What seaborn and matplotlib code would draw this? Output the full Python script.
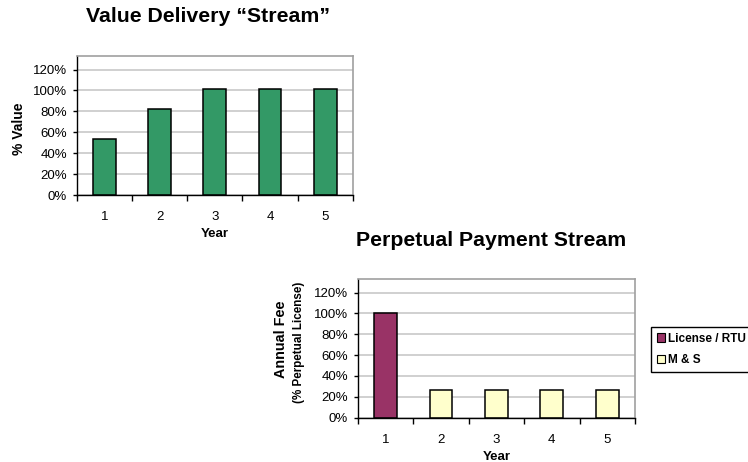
import matplotlib
matplotlib.use("Agg")
import matplotlib.pyplot as plt
import seaborn as sns
import pandas as pd
from matplotlib.ticker import FixedLocator, PercentFormatter
from matplotlib.patches import Patch

# Data
years = [1, 2, 3, 4, 5]
value_delivered = [0.54, 0.82, 1.01, 1.01, 1.01]
payment_component = ["License / RTU", "M & S", "M & S", "M & S", "M & S"]
annual_fee = [1.00, 0.27, 0.27, 0.27, 0.27]
y_ticks = [0.0, 0.2, 0.4, 0.6, 0.8, 1.0, 1.2]

palette = {"License / RTU": "#993366", "M & S": "#FFFFCC"}

sns.set_theme(style="white")
plt.rcParams["font.family"] = ["Liberation Sans", "DejaVu Sans"]
plt.rcParams["text.color"] = "black"
plt.rcParams["axes.labelcolor"] = "black"

fig = plt.figure(figsize=(7.48, 4.62), dpi=100)
ax1 = fig.add_axes([0.1025, 0.5779, 0.3694, 0.3009])
ax2 = fig.add_axes([0.4782, 0.0959, 0.3707, 0.3002])

value_df = pd.DataFrame({"Year": years, "Value": value_delivered})
sns.barplot(data=value_df, x="Year", y="Value", color="#339966", saturation=1,
            width=0.41, edgecolor="black", linewidth=1.1, ax=ax1)

fee_df = pd.DataFrame({"Year": years, "Component": payment_component, "Fee": annual_fee})
sns.barplot(data=fee_df, x="Year", y="Fee", hue="Component", palette=palette,
            saturation=1, dodge=False, width=0.41, edgecolor="black",
            linewidth=1.1, legend=False, ax=ax2)


def style_axes(ax):
    ax.set_xlim(-0.5, 4.5)
    ax.set_ylim(0, 1.33)
    ax.yaxis.set_major_locator(FixedLocator(y_ticks))
    ax.yaxis.set_major_formatter(PercentFormatter(1.0, decimals=0))
    ax.grid(axis="y", color="#c8c8c8", linewidth=1.2)
    ax.grid(axis="x", visible=False)
    ax.set_axisbelow(True)
    # boundary ticks between years, labels centred under each bar
    ax.set_xticks([i - 0.5 for i in range(6)])
    ax.set_xticklabels([])
    ax.set_xticks(range(5), minor=True)
    ax.set_xticklabels([str(y) for y in years], minor=True)
    ax.tick_params(axis="x", which="major", bottom=True, direction="out",
                   length=4, width=1, color="black")
    ax.tick_params(axis="x", which="minor", bottom=True, length=0, pad=11.5,
                   labelsize=9.5, labelcolor="black")
    ax.tick_params(axis="y", which="major", left=True, direction="out",
                   length=3, width=1, color="black", pad=4, labelsize=9.5,
                   labelcolor="black")
    for s in ("top", "right"):
        ax.spines[s].set_color("#a0a0a0")
        ax.spines[s].set_linewidth(1.2)
    for s in ("left", "bottom"):
        ax.spines[s].set_color("black")
        ax.spines[s].set_linewidth(1.0)
    ax.set_xlabel("Year", fontsize=9.5, fontweight="bold", labelpad=3.8,
                  color="black")


style_axes(ax1)
style_axes(ax2)

ax1.set_ylabel("% Value", fontsize=10, fontweight="bold", color="black")
ax1.yaxis.label.set_verticalalignment("center")
ax1.yaxis.set_label_coords(-0.209, 0.48)

ax2.set_ylabel("Annual Fee", fontsize=10.4, fontweight="bold", color="black")
ax2.yaxis.label.set_verticalalignment("center")
ax2.yaxis.set_label_coords(-0.278, 0.567)
ax2.text(-0.213, 0.542, "(% Perpetual License)", transform=ax2.transAxes,
         rotation=90, ha="center", va="center", fontsize=8.4,
         fontweight="bold", color="black")

fig.text(208 / 748, 1 - 17 / 462, "Value Delivery \u201cStream\u201d",
         ha="center", va="center", fontsize=15.3, fontweight="bold")
fig.text(491.3 / 748, 1 - 240.7 / 462, "Perpetual Payment Stream",
         ha="center", va="center", fontsize=15.3, fontweight="bold")

handles = [Patch(facecolor=c, edgecolor="black", linewidth=0.8, label=l)
           for l, c in palette.items()]
leg = fig.legend(handles=handles, loc="upper left",
                 bbox_to_anchor=(650.7 / 748, 1 - 326.7 / 462),
                 bbox_transform=fig.transFigure, frameon=True, fancybox=False,
                 edgecolor="black", prop=dict(weight="bold", size=8.5),
                 handlelength=0.7, handleheight=0.7, handletextpad=0.3,
                 borderpad=0.5, labelspacing=0.8, borderaxespad=0)
leg.get_frame().set_linewidth(1.0)
leg.get_frame().set_alpha(1)
for t in leg.get_texts():
    t.set_color("black")

fig.savefig("out.png", dpi=100)
